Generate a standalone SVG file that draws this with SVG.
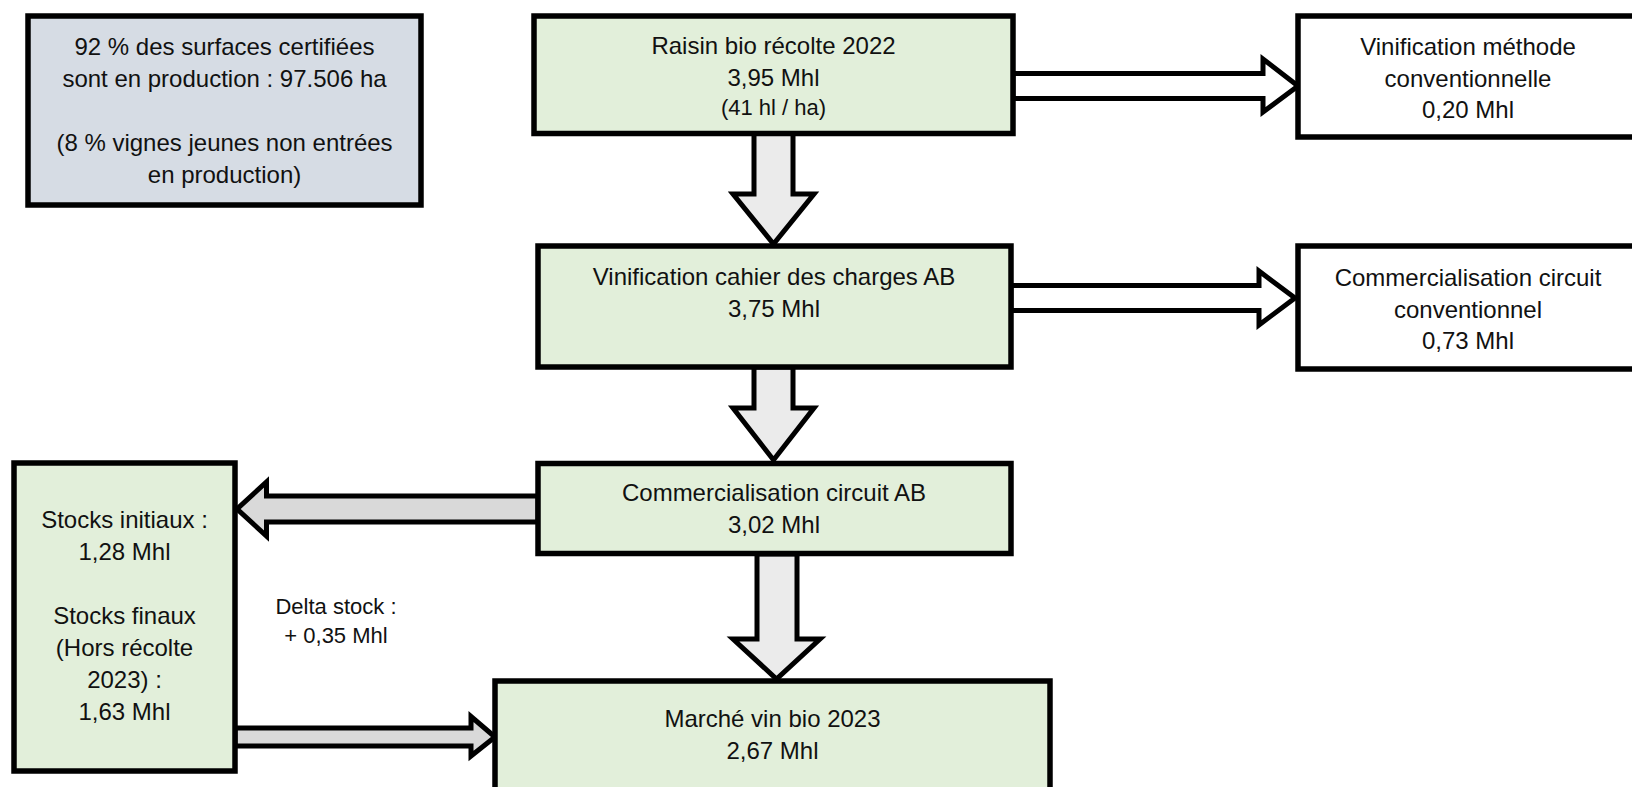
<svg xmlns="http://www.w3.org/2000/svg" width="1632" height="787" viewBox="0 0 1632 787">
<style>
text{font-family:"Liberation Sans",Arial,sans-serif;font-size:24px;fill:#111;text-anchor:middle}
.sm{font-size:22px}
.box{stroke:#000;stroke-width:5.5}
.green{fill:#e2efda}
.grey{fill:#d6dce4}
.white{fill:#fff}
.arr{stroke:#000;stroke-width:5;stroke-linejoin:miter;stroke-miterlimit:10}
.av{fill:#ebebeb}
.ah{fill:#d9d9d9}
.aw{fill:#fff}
</style>
<rect width="1632" height="787" fill="#fff"/>
<g id="connectors">
<path class="arr av" d="M754,133 L754,194 L733,194 L773.5,244 L814,194 L793,194 L793,133 Z"/>
<path class="arr av" d="M754,367 L754,408 L733,408 L773.5,460 L814,408 L793,408 L793,367 Z"/>
<path class="arr av" d="M757,554 L757,639 L733,639 L776.5,679 L820,639 L797,639 L797,554 Z"/>
<path class="arr aw" d="M1013,73.5 L1263,73.5 L1263,59 L1298,86 L1263,112 L1263,98.5 L1013,98.5 Z"/>
<path class="arr aw" d="M1011,285.5 L1259,285.5 L1259,271 L1295,298 L1259,325 L1259,310.5 L1011,310.5 Z"/>
<path class="arr ah" d="M538,496 L266.5,496 L266.5,482 L237,509 L266.5,536 L266.5,522 L538,522 Z"/>
<path class="arr ah" d="M235,728 L471,728 L471,716.5 L495,737 L471,756 L471,746 L235,746 Z"/>
</g>
<g id="node-surfaces">
<rect class="box grey" x="28" y="16" width="393" height="189"/>
<text x="224.5" y="55">92 % des surfaces certifiées</text>
<text x="224.5" y="87">sont en production : 97.506 ha</text>
<text x="224.5" y="151">(8 % vignes jeunes non entrées</text>
<text x="224.5" y="183">en production)</text>
</g>
<g id="node-raisin">
<rect class="box green" x="534" y="16" width="479" height="117.5"/>
<text x="773.5" y="54">Raisin bio récolte 2022</text>
<text x="773.5" y="86">3,95 Mhl</text>
<text class="sm" x="773.5" y="115">(41 hl / ha)</text>
</g>
<g id="node-vinif-conv">
<rect class="box white" x="1298" y="16" width="356" height="121"/>
<text x="1468" y="55">Vinification méthode</text>
<text x="1468" y="87">conventionnelle</text>
<text x="1468" y="118">0,20 Mhl</text>
</g>
<g id="node-vinif-ab">
<rect class="box green" x="538" y="246" width="473" height="121"/>
<text x="774" y="285">Vinification cahier des charges AB</text>
<text x="774" y="317">3,75 Mhl</text>
</g>
<g id="node-comm-conv">
<rect class="box white" x="1298" y="246" width="356" height="123"/>
<text x="1468" y="286">Commercialisation circuit</text>
<text x="1468" y="318">conventionnel</text>
<text x="1468" y="349">0,73 Mhl</text>
</g>
<g id="node-comm-ab">
<rect class="box green" x="538" y="463.5" width="473" height="90"/>
<text x="774" y="501">Commercialisation circuit AB</text>
<text x="774" y="533">3,02 Mhl</text>
</g>
<g id="node-stocks">
<rect class="box green" x="14" y="463" width="221" height="308"/>
<text x="124.5" y="528">Stocks initiaux :</text>
<text x="124.5" y="560">1,28 Mhl</text>
<text x="124.5" y="624">Stocks finaux</text>
<text x="124.5" y="656">(Hors récolte</text>
<text x="124.5" y="688">2023) :</text>
<text x="124.5" y="720">1,63 Mhl</text>
</g>
<g id="label-delta">
<text class="sm" x="336" y="614">Delta stock :</text>
<text class="sm" x="336" y="643">+ 0,35 Mhl</text>
</g>
<g id="node-marche">
<rect class="box green" x="495" y="681" width="555" height="120"/>
<text x="772.5" y="727">Marché vin bio 2023</text>
<text x="772.5" y="759">2,67 Mhl</text>
</g>
</svg>
